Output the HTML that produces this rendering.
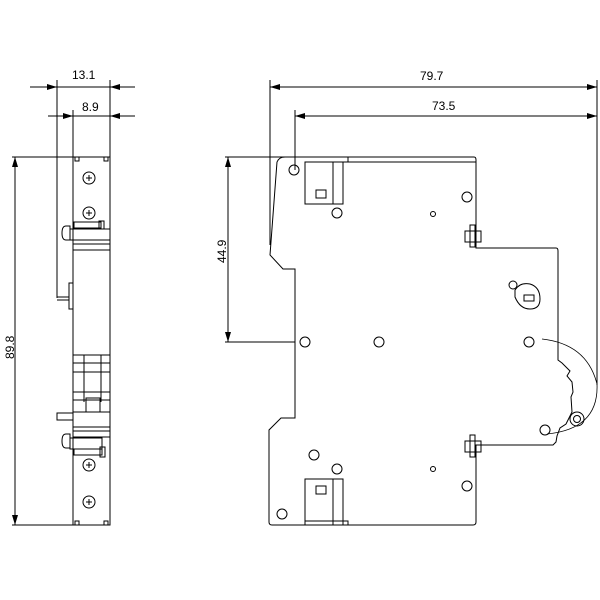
<!DOCTYPE html>
<html><head><style>body{margin:0;background:#fff}svg{display:block}text{font-family:"Liberation Sans",sans-serif;font-size:12px;fill:#000}</style></head>
<body>
<svg width="600" height="600" viewBox="0 0 600 600" fill="none" stroke="#000" stroke-width="1">
<defs>
<marker id="a" viewBox="0 0 10 6" refX="10" refY="3" markerWidth="10" markerHeight="6" orient="auto-start-reverse" markerUnits="userSpaceOnUse"><path d="M0,0 L10,3 L0,6z" fill="#000" stroke="none"/></marker>
</defs>
<line x1="57" y1="80" x2="57" y2="298"/>
<line x1="110" y1="80" x2="110" y2="157"/>
<line x1="73" y1="110" x2="73" y2="157"/>
<line x1="30" y1="87" x2="57" y2="87" marker-end="url(#a)"/>
<line x1="57" y1="87" x2="110" y2="87"/>
<line x1="135" y1="87" x2="110" y2="87" marker-end="url(#a)"/>
<line x1="48" y1="116" x2="73" y2="116" marker-end="url(#a)"/>
<line x1="73" y1="116" x2="110" y2="116"/>
<line x1="135" y1="116" x2="110" y2="116" marker-end="url(#a)"/>
<text x="72" y="79" stroke="none">13.1</text>
<text x="82" y="111" stroke="none">8.9</text>
<line x1="12" y1="157" x2="73" y2="157"/>
<line x1="12" y1="525" x2="73" y2="525"/>
<line x1="15" y1="157" x2="15" y2="525" marker-start="url(#a)" marker-end="url(#a)"/>
<text x="0" y="0" stroke="none" transform="translate(14,359) rotate(-90)">89.8</text>
<rect x="73" y="157" width="37" height="368"/>
<rect x="75" y="157" width="4" height="4"/><rect x="104" y="157" width="4" height="4"/>
<rect x="75" y="521" width="4" height="4"/><rect x="104" y="521" width="4" height="4"/>
<g>
<circle cx="89" cy="178" r="6"/><circle cx="89" cy="213" r="6"/><circle cx="89" cy="465" r="6"/><circle cx="89" cy="502" r="6"/>
<path d="M86 178h6M89 175v6M86 213h6M89 210v6M86 465h6M89 462v6M86 502h6M89 499v6"/>
</g>
<rect x="74" y="222" width="27" height="6"/><rect x="99" y="221" width="5" height="8"/>
<rect x="70" y="229" width="40" height="11"/><path d="M66 226 q-4 0 -4 7 q0 7 4 7 h4v-14z"/>
<line x1="73" y1="244" x2="110" y2="244"/><line x1="73" y1="250" x2="110" y2="250"/>
<rect x="69" y="283" width="4" height="26"/><path d="M57 297 h12 M57 300 h12"/>
<path d="M73 355 h37 M73 363 h37 M73 372 h37 M73 392 h37 M73 400 h37 M84 355v47 M101 355v47 M84 363h17"/>
<rect x="86" y="398" width="14" height="14"/>
<rect x="73" y="412" width="37" height="15"/><rect x="57" y="413" width="16" height="7"/>
<line x1="73" y1="431" x2="110" y2="431"/><line x1="73" y1="437" x2="110" y2="437"/>
<rect x="70" y="438" width="32" height="11"/><path d="M66 434 q-4 0 -4 7 q0 7 4 7 h4v-14z"/>
<rect x="74" y="449" width="28" height="6"/><rect x="100" y="447" width="5" height="10"/>
<line x1="270" y1="80" x2="270" y2="245"/>
<line x1="295" y1="110" x2="295" y2="170"/>
<line x1="597" y1="80" x2="597" y2="385"/>
<line x1="270" y1="87" x2="597" y2="87" marker-start="url(#a)" marker-end="url(#a)"/>
<line x1="295" y1="116" x2="597" y2="116" marker-start="url(#a)" marker-end="url(#a)"/>
<text x="420" y="80" stroke="none">79.7</text>
<text x="432" y="110" stroke="none">73.5</text>
<line x1="225" y1="157" x2="295" y2="157"/>
<line x1="225" y1="342" x2="295" y2="342"/>
<line x1="228" y1="157" x2="228" y2="342" marker-start="url(#a)" marker-end="url(#a)"/>
<text x="0" y="0" stroke="none" transform="translate(226,263) rotate(-90)">44.9</text>
<path d="M305 157 H474 q2 0 2 3 V248 H556 q2 0 2 3 V360 l4 3 l8 8 l-3 5 l5 6 l1 10 l-2 5 l1 15 l-6 12 l-6 4 l-3 8 l-1 6 l-3 3 H476 V522 q0 3 -3 3 H272 q-3 0 -3 -3 V430 l12 -12 h14 V269 h-12 l-13 -14 l7 -93 q2 -5 8 -5 H305"/>
<path d="M305 157 H348 V162 H305"/>
<path d="M305 162 H476"/>
<rect x="305" y="162" width="38" height="42"/><line x1="333" y1="162" x2="333" y2="204"/><rect x="316" y="190" width="10" height="8"/>
<rect x="305" y="479" width="38" height="46"/><line x1="333" y1="479" x2="333" y2="525"/><rect x="316" y="486" width="10" height="8"/>
<path d="M305 521 H348 V525"/>
<circle cx="294" cy="170" r="5"/><circle cx="467" cy="197" r="5"/><circle cx="337" cy="213" r="5"/>
<circle cx="305" cy="342" r="5"/><circle cx="379" cy="342" r="5"/><circle cx="529" cy="342" r="5"/>
<circle cx="282" cy="514" r="5"/><circle cx="314" cy="455" r="5"/><circle cx="337" cy="469" r="5"/>
<circle cx="467" cy="486" r="5"/><circle cx="545" cy="430" r="5"/>
<circle cx="433" cy="214" r="2.5"/><circle cx="433" cy="469" r="2.5"/>
<circle cx="513" cy="285" r="4"/>
<path d="M515 290 q5 -8 15 -6 q10 3 10 15 q0 10 -10 10 q-10 0 -15 -12z"/>
<rect x="524" y="295" width="10" height="6"/>
<rect x="470" y="225" width="5" height="22"/><rect x="465" y="231" width="16" height="11"/>
<rect x="470" y="435" width="5" height="22"/><rect x="465" y="441" width="16" height="11"/>
<circle cx="577" cy="419" r="7"/><circle cx="577" cy="419" r="3.5"/>
<path d="M542 339 q45 5 55 45 q2 45 -50 50" stroke-width="0.8"/>
</svg>
</body></html>
